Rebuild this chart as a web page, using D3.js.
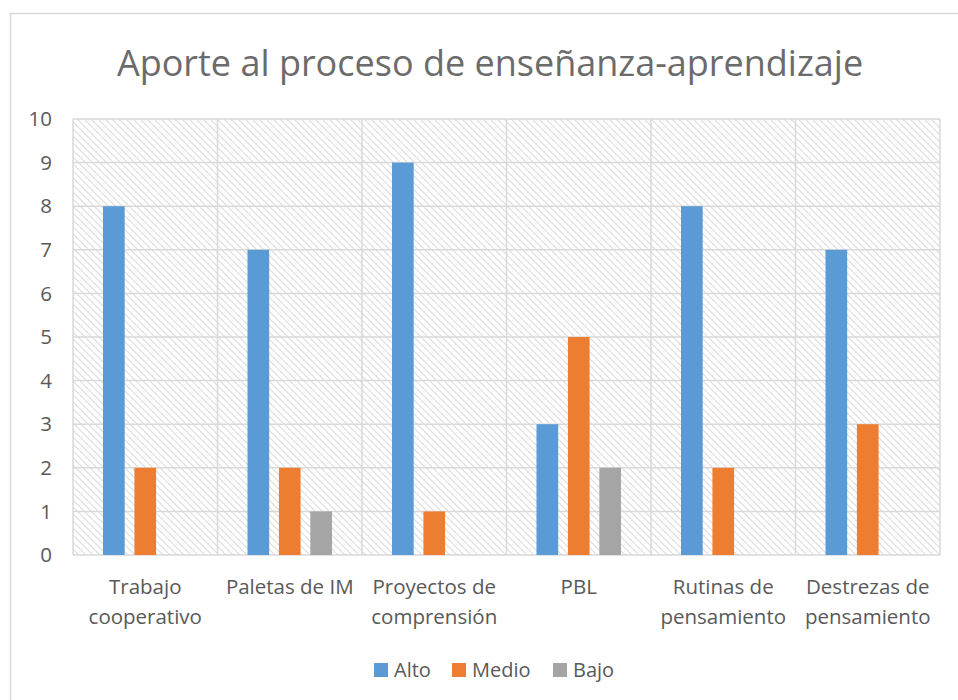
<!DOCTYPE html>
<html>
<head>
<meta charset="utf-8">
<script src="https://cdn.jsdelivr.net/npm/d3@7"></script>
<style>
  body { margin: 0; background: #fff; }
  text { font-family: "Open Sans", "Noto Sans", sans-serif; fill: #595959; }
</style>
</head>
<body>
<div id="chart"></div>
<script>
// Data
const categories = [
  ["Trabajo", "cooperativo"],
  ["Paletas de IM"],
  ["Proyectos de", "comprensión"],
  ["PBL"],
  ["Rutinas de", "pensamiento"],
  ["Destrezas de", "pensamiento"]
];
const seriesNames = ["Alto", "Medio", "Bajo"];
const alto = [8, 7, 9, 3, 8, 7];
const medio = [2, 2, 1, 5, 2, 3];
const bajo = [0, 1, 0, 2, 0, 0];
const yTicks = [0, 1, 2, 3, 4, 5, 6, 7, 8, 9, 10];
const colors = ["#5B9BD5", "#ED7D31", "#A5A5A5"];

const rows = categories.map((c, i) => ({
  key: c.join(" "), label: c, values: [alto[i], medio[i], bajo[i]]
}));

const width = 958, height = 700;
const svg = d3.select("#chart").append("svg")
  .attr("width", width)
  .attr("height", height);

// chart frame
svg.append("rect")
  .attr("x", 10.5).attr("y", 13.5)
  .attr("width", 960).attr("height", 700)
  .attr("fill", "#fff")
  .attr("stroke", "#D9D9D9")
  .attr("stroke-width", 1.5);

// hatch pattern for plot background
const defs = svg.append("defs");
const pat = defs.append("pattern")
  .attr("id", "hatch")
  .attr("patternUnits", "userSpaceOnUse")
  .attr("width", 7).attr("height", 7);
pat.append("path")
  .attr("d", "M-1,-1 L8,8 M-8,-1 L1,8 M6,-1 L15,8")
  .attr("stroke", "#DCDCDC")
  .attr("stroke-width", 1.2);

const plot = { left: 73, top: 119, right: 940, bottom: 555 };

const x = d3.scaleBand()
  .domain(rows.map(d => d.key))
  .range([plot.left, plot.right])
  .padding(0);

const xInner = d3.scaleBand()
  .domain(seriesNames)
  .range([30, x.bandwidth() - 30])
  .paddingInner(0.31)
  .paddingOuter(0);

const y = d3.scaleLinear()
  .domain([0, 10])
  .range([plot.bottom, plot.top]);

// background
svg.append("rect")
  .attr("x", plot.left).attr("y", plot.top)
  .attr("width", plot.right - plot.left)
  .attr("height", plot.bottom - plot.top)
  .attr("fill", "url(#hatch)");

// horizontal gridlines
svg.append("g")
  .selectAll("line")
  .data(yTicks)
  .join("line")
  .attr("x1", plot.left).attr("x2", plot.right)
  .attr("y1", d => y(d)).attr("y2", d => y(d))
  .attr("stroke", "#D9D9D9")
  .attr("stroke-width", 1.5);

// vertical gridlines at category boundaries
const bounds = rows.map(d => x(d.key)).concat([plot.right]);
svg.append("g")
  .selectAll("line")
  .data(bounds)
  .join("line")
  .attr("x1", d => d).attr("x2", d => d)
  .attr("y1", plot.top).attr("y2", plot.bottom)
  .attr("stroke", "#D9D9D9")
  .attr("stroke-width", 1.5);

// bars
const groups = svg.append("g")
  .selectAll("g")
  .data(rows)
  .join("g")
  .attr("transform", d => `translate(${x(d.key)},0)`);

groups.selectAll("rect")
  .data(d => d.values.map((v, i) => ({ name: seriesNames[i], value: v, i })))
  .join("rect")
  .attr("x", d => xInner(d.name))
  .attr("width", xInner.bandwidth())
  .attr("y", d => y(d.value))
  .attr("height", d => y(0) - y(d.value))
  .attr("fill", d => colors[d.i]);

// y axis labels
svg.append("g")
  .selectAll("text")
  .data(yTicks)
  .join("text")
  .attr("x", 52)
  .attr("y", d => y(d))
  .attr("dy", "0.35em")
  .attr("text-anchor", "end")
  .style("font-size", "20.5px")
  .text(d => d);

// category labels
const catLabels = svg.append("g")
  .selectAll("text")
  .data(rows)
  .join("text")
  .attr("x", d => x(d.key) + x.bandwidth() / 2)
  .attr("y", 594)
  .attr("text-anchor", "middle")
  .style("font-size", "20.5px");
catLabels.selectAll("tspan")
  .data(d => d.label)
  .join("tspan")
  .attr("x", function() { return d3.select(this.parentNode).attr("x"); })
  .attr("dy", (d, i) => i === 0 ? 0 : 30)
  .text(d => d);

// title
svg.append("text")
  .attr("x", 490)
  .attr("y", 76)
  .attr("text-anchor", "middle")
  .style("font-size", "36px")
  .style("fill", "#6b6b6b")
  .text("Aporte al proceso de enseñanza-aprendizaje");

// legend
const legendX = [374, 452, 553];
const legend = svg.append("g")
  .selectAll("g")
  .data(seriesNames)
  .join("g")
  .attr("transform", (d, i) => `translate(${legendX[i]}, 663)`);
legend.append("rect")
  .attr("width", 14).attr("height", 14)
  .attr("fill", (d, i) => colors[i]);
legend.append("text")
  .attr("x", 20).attr("y", 7)
  .attr("dy", "0.35em")
  .style("font-size", "20px")
  .text(d => d);
</script>
</body>
</html>
